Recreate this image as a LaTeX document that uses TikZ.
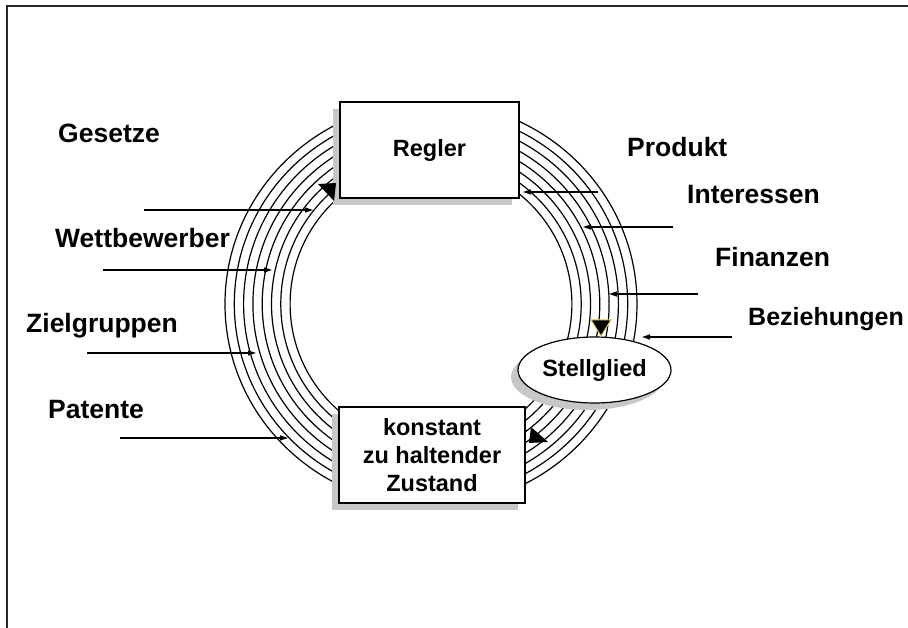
\documentclass[tikz,border=0pt]{standalone}
\usepackage{fontspec}
\setmainfont{Liberation Sans}
\usetikzlibrary{shapes.geometric,arrows.meta,shadows}
\begin{document}
\begin{tikzpicture}[x=1pt,y=-1pt,
  ring/.style={line width=1.2pt, black},
  arr/.style={line width=1.2pt, -{Triangle[length=8pt,width=5pt]}},
  lbl/.style={anchor=base west, inner sep=0pt, font=\fontsize{26.5}{30}\selectfont\bfseries},
  boxshadow/.style={drop shadow={shadow xshift=-7pt, shadow yshift=-7pt, fill=black!22, opacity=1}},
  box/.style={draw, line width=1.2pt, fill=white, rectangle, inner sep=0pt, boxshadow, font=\fontsize{23.5}{28}\selectfont\bfseries},
  tri/.style={fill=black, line join=round}
]
\useasboundingbox (0,0) rectangle (908,628);
\clip (0,0) rectangle (908,628);
% frame
\draw[line width=2pt, black!85] (6.5,628) -- (6.5,6.5) -- (908,6.5);
% rings
\foreach \k in {0,...,7} {
  \draw[ring] (431,304) ellipse [x radius={206pt-9.3pt*\k}, y radius={202pt-8.7pt*\k}];
}
% boxes
\node[box, minimum width=179pt, minimum height=96pt] (regler) at (429.5,150) {Regler};
\node[box, minimum width=186pt, minimum height=96pt, align=center] (zust) at (432,455) {konstant\\zu haltender\\Zustand};
\node[box, ellipse, minimum width=153pt, minimum height=66pt] (stell) at (594.5,370) {Stellglied};
% arrowheads on the ring
\fill[tri] (318,184) -- (336,183) -- (334,201) -- cycle;
\filldraw[tri, draw={rgb,255:red,230;green,205;blue,90}, line width=1pt] (591,320) -- (611,320) -- (601,336) -- cycle;
\fill[tri] (531,427) -- (529,443) -- (548,442) -- cycle;
% input arrows
\coordinate (gs) at (144,210); \coordinate (ge) at (313,210);
\coordinate (ws) at (103,270); \coordinate (we) at (272,270);
\coordinate (zs) at (87,353);  \coordinate (ze) at (256,353);
\coordinate (ps) at (120,438); \coordinate (pe) at (288,438);
\coordinate (prs) at (598,192); \coordinate (pre) at (523,192);
\coordinate (is) at (673,227); \coordinate (ie) at (583,227);
\coordinate (fs) at (698,294); \coordinate (fe) at (609,294);
\coordinate (bs) at (732,337); \coordinate (be) at (642,337);
\draw[arr] (gs) -- (ge);
\draw[arr] (ws) -- (we);
\draw[arr] (zs) -- (ze);
\draw[arr] (ps) -- (pe);
\draw[arr] (prs) -- (pre);
\draw[arr] (is) -- (ie);
\draw[arr] (fs) -- (fe);
\draw[arr] (bs) -- (be);
% labels
\node[lbl] (lg) at (58,143) {Gesetze};
\node[lbl] (lw) at (55,248) {Wettbewerber};
\node[lbl] (lz) at (26,333) {Zielgruppen};
\node[lbl] (lp) at (48,418) {Patente};
\node[lbl] (lpr) at (627,157) {Produkt};
\node[lbl] (li) at (687,204) {Interessen};
\node[lbl] (lf) at (715,267) {Finanzen};
\node[lbl, font=\fontsize{25}{30}\selectfont\bfseries] (lb) at (748,326) {Beziehungen};
\end{tikzpicture}
\end{document}
